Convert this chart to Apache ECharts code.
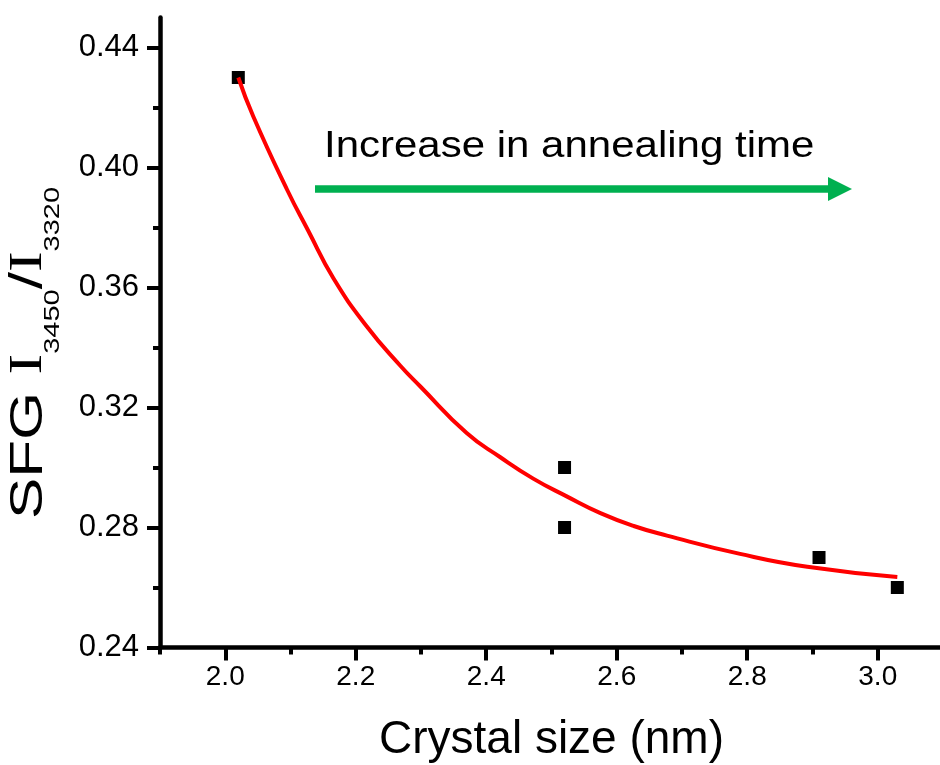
<!DOCTYPE html>
<html>
<head>
<meta charset="utf-8">
<script src="https://cdn.jsdelivr.net/npm/echarts@6/dist/echarts.min.js"></script>
<style>
  html, body { margin: 0; padding: 0; background: #fff; }
  #chart { width: 940px; height: 765px; }
</style>
</head>
<body>
<div id="chart"></div>
<script>
// Measured SFG intensity ratio vs. crystal size
const crystalSize = [2.02, 2.52, 2.52, 2.91, 3.03];
const sfgRatio = [0.43, 0.30, 0.28, 0.27, 0.26];

// Exponential-decay fit curve, sampled along its path
const fitX = [2.020, 2.043, 2.095, 2.127, 2.166, 2.217, 2.268, 2.299, 2.370, 2.421, 2.472, 2.524, 2.575, 2.626, 2.677, 2.789, 2.892, 3.030];
const fitY = [0.430, 0.417, 0.3925, 0.379, 0.363, 0.347, 0.334, 0.327, 0.3115, 0.3035, 0.2963, 0.2903, 0.2848, 0.2805, 0.2773, 0.2712, 0.2669, 0.2635];

// Tick positions
const xMajorTicks = [2.0, 2.2, 2.4, 2.6, 2.8, 3.0];
const xMinorTicks = [1.9, 2.1, 2.3, 2.5, 2.7, 2.9];
const yMajorTicks = [0.24, 0.28, 0.32, 0.36, 0.40, 0.44];
const yMinorTicks = [0.26, 0.30, 0.34, 0.38, 0.42];

const xTitle = 'Crystal size (nm)';
const annotation = 'Increase in annealing time';

const SANS = 'Arial, "Liberation Sans", sans-serif';
const SERIF = '"Times New Roman", "Liberation Serif", serif';
const X_MIN = 1.9, X_MAX = 3.1, Y_MIN = 0.24, Y_MAX = 0.45;

const chart = echarts.init(document.getElementById('chart'), null, { renderer: 'canvas' });

function zip(a, b) { return a.map((v, i) => [v, b[i]]); }

const baseX = { type: 'value', min: X_MIN, max: X_MAX, gridIndex: 0, splitLine: { show: false } };
const baseY = { type: 'value', min: Y_MIN, max: Y_MAX, gridIndex: 0, splitLine: { show: false } };

chart.setOption({
  animation: false,
  backgroundColor: '#fff',
  grid: { left: 160, right: -3, top: 17.5, bottom: 117.5, containLabel: false, outerBoundsMode: 'none' },
  xAxis: [
    Object.assign({}, baseX, {
      position: 'bottom',
      axisLine: { show: true, onZero: false, lineStyle: { color: '#000', width: 4.5 } },
      axisTick: { show: true, customValues: xMajorTicks, length: 13, lineStyle: { color: '#000', width: 4 } },
      axisLabel: {
        show: true, customValues: xMajorTicks, margin: 16,
        formatter: v => v.toFixed(1),
        fontFamily: SANS, fontSize: 28, color: '#000'
      },
      name: xTitle, nameLocation: 'middle', nameGap: 70,
      nameTextStyle: { fontFamily: SANS, fontSize: 46, color: '#000' }
    }),
    Object.assign({}, baseX, {
      position: 'bottom',
      axisLine: { show: false, onZero: false },
      axisTick: { show: true, customValues: xMinorTicks, length: 7, lineStyle: { color: '#000', width: 4 } },
      axisLabel: { show: false }
    })
  ],
  yAxis: [
    Object.assign({}, baseY, {
      position: 'left',
      axisLine: { show: true, onZero: false, lineStyle: { color: '#000', width: 4.5 } },
      axisTick: { show: true, customValues: yMajorTicks, length: 13, lineStyle: { color: '#000', width: 4 } },
      axisLabel: {
        show: true, customValues: yMajorTicks, margin: 21,
        formatter: v => v.toFixed(2),
        fontFamily: SANS, fontSize: 31, color: '#000'
      }
    }),
    Object.assign({}, baseY, {
      position: 'left',
      axisLine: { show: false, onZero: false },
      axisTick: { show: true, customValues: yMinorTicks, length: 7, lineStyle: { color: '#000', width: 4 } },
      axisLabel: { show: false }
    })
  ],
  series: [
    {
      type: 'scatter',
      xAxisIndex: 0, yAxisIndex: 0,
      data: zip(crystalSize, sfgRatio),
      symbol: 'rect',
      symbolSize: 13,
      itemStyle: { color: '#000', opacity: 1 },
      z: 2
    },
    {
      type: 'line',
      xAxisIndex: 0, yAxisIndex: 0,
      data: zip(fitX, fitY),
      smooth: 0.5,
      showSymbol: false,
      symbol: 'none',
      lineStyle: { color: '#ff0000', width: 4 },
      z: 3
    }
  ],
  graphic: [
    // rotated y-axis title with subscripts
    {
      type: 'text',
      x: 29, y: 353,
      rotation: Math.PI / 2,
      scaleY: 0.76,
      style: {
        text: '{a|SFG }{i|I}{s|3450}{a|/}{i|I}{s|3320}',
        align: 'center',
        verticalAlign: 'middle',
        fill: '#000',
        rich: {
          a: { fontFamily: SANS, fontSize: 62, lineHeight: 62, verticalAlign: 'top', fill: '#000' },
          i: { fontFamily: SERIF, fontSize: 62, lineHeight: 62, verticalAlign: 'top', fill: '#000' },
          s: { fontFamily: SANS, fontSize: 29, lineHeight: 29, verticalAlign: 'top', padding: [48, 0, 0, 0], fill: '#000' }
        }
      }
    },
    // annotation text
    {
      type: 'text',
      x: 324, y: 146.4,
      scaleY: 0.88,
      style: {
        text: annotation,
        fontFamily: SANS, fontSize: 42,
        fill: '#000', align: 'left', verticalAlign: 'middle'
      }
    },
    // annotation arrow shaft
    {
      type: 'line',
      shape: { x1: 315, y1: 189, x2: 830, y2: 189 },
      style: { stroke: '#00b050', lineWidth: 7.5 }
    },
    // annotation arrow head
    {
      type: 'polygon',
      shape: { points: [[828, 177], [852, 189], [828, 201]] },
      style: { fill: '#00b050' }
    }
  ]
});
</script>
</body>
</html>
